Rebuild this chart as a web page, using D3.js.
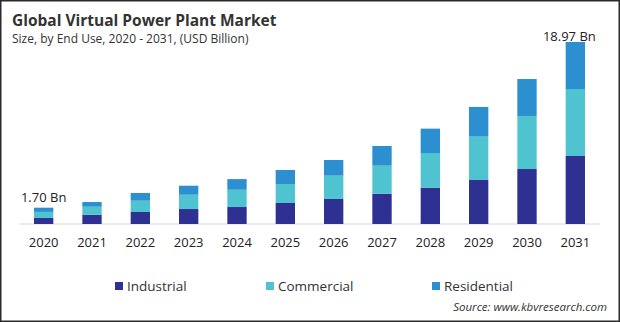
<!DOCTYPE html>
<html>
<head>
<meta charset="utf-8">
<script src="https://cdn.jsdelivr.net/npm/d3@7/dist/d3.min.js"></script>
<style>
  html, body { margin: 0; padding: 0; background: #fff; }
  svg { display: block; }
  text { font-family: "Open Sans", "Noto Sans", sans-serif; fill: #222; }
</style>
</head>
<body>
<svg id="chart" width="620" height="322"></svg>
<script>
// Market size by end use, USD billion
const years = ["2020", "2021", "2022", "2023", "2024", "2025", "2026", "2027", "2028", "2029", "2030", "2031"];
const industrial  = [0.63, 0.97, 1.25, 1.56, 1.77, 2.19, 2.61, 3.16, 3.79, 4.59, 5.73, 7.09];
const commercial  = [0.63, 0.83, 1.18, 1.49, 1.80, 1.98, 2.43, 2.92, 3.61, 4.52, 5.52, 6.98];
const residential = [0.44, 0.49, 0.80, 0.94, 1.11, 1.46, 1.63, 2.05, 2.54, 3.09, 3.86, 4.90];
const seriesNames = ["Industrial", "Commercial", "Residential"];
const seriesColors = ["#2e3192", "#4fc3cf", "#2b8fd0"];
const firstLabel = "1.70 Bn";
const lastLabel = "18.97 Bn";

const svg = d3.select("#chart");
const W = 620, H = 322;

// Frame
svg.append("rect")
  .attr("x", 0.75).attr("y", 0.75)
  .attr("width", W - 1.5).attr("height", H - 1.5)
  .attr("fill", "#fff").attr("stroke", "#2a2a2a").attr("stroke-width", 1.5);

// Titles
svg.append("text").attr("x", 12).attr("y", 26)
  .style("font-size", "15.5px").style("font-weight", "bold").style("fill", "#333")
  .text("Global Virtual Power Plant Market");
svg.append("text").attr("x", 12).attr("y", 43)
  .style("font-size", "12px").style("fill", "#333")
  .text("Size, by End Use, 2020 - 2031, (USD Billion)");

const table = years.map((y, i) => ({
  year: y,
  Industrial: industrial[i],
  Commercial: commercial[i],
  Residential: residential[i]
}));
const stacked = d3.stack().keys(seriesNames)(table);
const totals = table.map(d => d.Industrial + d.Commercial + d.Residential);

const x = d3.scaleBand().domain(years).range([5, 614]).paddingInner(0.6).paddingOuter(0.6);
const y = d3.scaleLinear().domain([0, d3.max(totals)]).range([224, 42]);
const color = d3.scaleOrdinal().domain(seriesNames).range(seriesColors);

// Baseline
svg.append("line")
  .attr("x1", 19).attr("x2", 600)
  .attr("y1", y(0)).attr("y2", y(0))
  .attr("stroke", "#d9d9d9").attr("stroke-width", 1.2);

// Stacked bars
svg.append("g").selectAll("g")
  .data(stacked).join("g")
  .attr("fill", d => color(d.key))
  .selectAll("rect")
  .data(d => d).join("rect")
  .attr("x", d => x(d.data.year))
  .attr("width", x.bandwidth())
  .attr("y", d => y(d[1]))
  .attr("height", d => y(d[0]) - y(d[1]));

// Year axis
const axis = svg.append("g")
  .attr("transform", `translate(0,${y(0)})`)
  .call(d3.axisBottom(x).tickSize(0).tickPadding(14));
axis.select(".domain").remove();
axis.selectAll("text")
  .style("font-size", "13px").style("fill", "#222")
  .style("font-family", "'Open Sans', 'Noto Sans', sans-serif");

// Value labels on first and last bars
const n = years.length;
svg.append("text")
  .attr("x", x(years[0]) + x.bandwidth() / 2)
  .attr("y", y(totals[0]) - 6)
  .attr("text-anchor", "middle")
  .style("font-size", "13px")
  .text(firstLabel);
svg.append("text")
  .attr("x", x(years[n - 1]) + x.bandwidth() / 2 - 6)
  .attr("y", y(totals[n - 1]) - 1)
  .attr("text-anchor", "middle")
  .style("font-size", "13px")
  .text(lastLabel);

// Legend
const legendX = [115, 266, 432];
const legend = svg.append("g").selectAll("g")
  .data(seriesNames).join("g")
  .attr("transform", (d, i) => `translate(${legendX[i]},286)`);
legend.append("rect")
  .attr("x", 0).attr("y", -4).attr("width", 8).attr("height", 8)
  .attr("fill", d => color(d));
legend.append("text")
  .attr("x", 12).attr("y", 5)
  .style("font-size", "13.5px").style("fill", "#333")
  .text(d => d);

// Source note
svg.append("text")
  .attr("x", 607).attr("y", 311)
  .attr("text-anchor", "end")
  .style("font-size", "11.5px").style("font-style", "italic").style("fill", "#333")
  .text("Source: www.kbvresearch.com");
</script>
</body>
</html>
